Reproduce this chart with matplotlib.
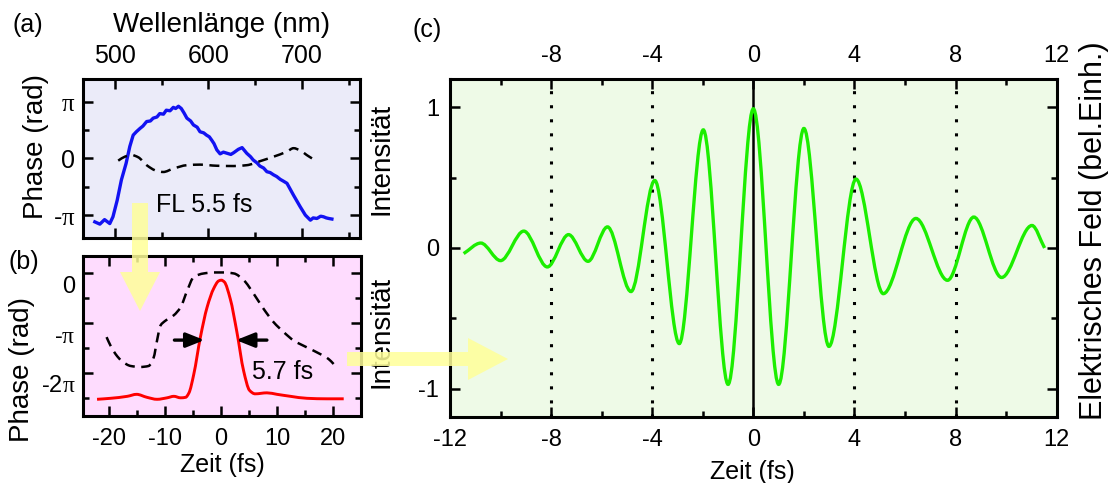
import numpy as np
import matplotlib
matplotlib.use("Agg")
import matplotlib.pyplot as plt
from matplotlib.path import Path
from matplotlib.patches import PathPatch, FancyArrow
from matplotlib.ticker import MultipleLocator, FixedLocator
from matplotlib.transforms import ScaledTranslation

# (a) spectrum (intensity, drawn in phase units of pi) and spectral phase
spec_nm = [478.6, 484, 489, 494.6, 498, 502.5, 507, 512, 516, 519.6, 523, 527, 530, 534,
           538, 541, 545, 548, 552, 555, 559, 562.5, 565, 568, 571, 574, 577, 581, 584,
           588, 591, 595, 598, 601, 603.6, 606, 609, 612.5, 616, 620, 624, 627, 632, 636,
           641, 645, 648, 652, 655, 659, 662.5, 666, 669.6, 673, 676.8, 680, 684, 691,
           698, 703.6, 709, 712, 716, 720, 723, 726, 728.6, 732]
spec_int = [-1.12, -1.16, -1.08, -1.15, -1.03, -0.74, -0.38, -0.09, 0.21, 0.41, 0.47,
            0.53, 0.57, 0.65, 0.66, 0.71, 0.73, 0.79, 0.78, 0.85, 0.84, 0.90, 0.88, 0.92,
            0.88, 0.80, 0.71, 0.66, 0.59, 0.55, 0.47, 0.45, 0.41, 0.38, 0.32, 0.26, 0.15,
            0.08, 0.11, 0.09, 0.07, 0.10, 0.16, 0.19, 0.09, 0.03, -0.03, -0.08, -0.135,
            -0.17, -0.235, -0.25, -0.29, -0.32, -0.37, -0.40, -0.44, -0.65, -0.85, -1.0,
            -1.09, -1.05, -1.06, -1.02, -1.03, -1.05, -1.06, -1.07]
phase_nm = [503.6, 510.7, 517.9, 525, 534, 544.6, 551.8, 562.5, 577, 591, 609, 627, 641,
            655, 669.6, 684, 691, 698, 705, 710.7]
phase_spec = [-0.04, 0.03, 0.06, 0.02, -0.12, -0.22, -0.24, -0.18, -0.12, -0.11, -0.13,
              -0.135, -0.12, -0.05, 0.03, 0.12, 0.18, 0.14, 0.06, 0.0]

# (b) temporal intensity and phase
pulse_t = [-22.1, -19.7, -16.7, -15.05, -13.2, -11.4, -9.6, -8.4, -7.2, -6.3, -5.7, -4.85,
           -3.66, -2.47, -1.28, -0.4, 0.07, 0.6, 1.66, 2.85, 4.05, 5.1, 6.1, 8.2, 10.0,
           12.4, 15.35, 18.9, 21.9]
pulse_int = [-2.53, -2.51, -2.47, -2.43, -2.49, -2.53, -2.50, -2.47, -2.50, -2.49, -2.40,
             -2.03, -1.28, -0.68, -0.30, -0.15, -0.135, -0.17, -0.51, -1.18, -1.96, -2.35,
             -2.42, -2.40, -2.43, -2.47, -2.51, -2.52, -2.52]
phase_t = [-20.4, -19.7, -18.8, -17.6, -16.1, -14.4, -12.9, -12.0, -11.4, -10.8, -9.9, -8.4,
           -7.2, -6.0, -4.85, -3.07, -1.3, 0.4, 2.3, 4.1, 5.85, 7.6, 9.4, 11.2, 13.0, 15.4,
           17.7, 19.2, 20.1]
phase_time = [-1.28, -1.45, -1.62, -1.77, -1.86, -1.88, -1.86, -1.69, -1.35, -1.05, -0.95,
              -0.84, -0.68, -0.34, -0.07, 0.0, 0.02, 0.02, 0.0, -0.14, -0.41, -0.71, -0.98,
              -1.18, -1.35, -1.49, -1.62, -1.72, -1.82]
fwhm_level = -1.34
fwhm_left = (-8.3, -2.95)
fwhm_right = (8.2, 2.7)

# (c) electric field, extrema
field_t = [-11.46, -10.78, -10.0, -9.08, -8.15, -7.31, -6.54, -5.77, -4.84, -3.9, -2.93,
           -1.98, -1.0, 0.0, 1.0, 2.0, 2.99, 4.06, 5.14, 6.43, 7.68, 8.72, 9.82, 11.02, 11.52]
field_e = [-0.04, 0.035, -0.09, 0.12, -0.135, 0.095, -0.095, 0.15, -0.31, 0.48, -0.68,
           0.84, -0.97, 0.99, -0.97, 0.85, -0.70, 0.49, -0.325, 0.21, -0.23, 0.22, -0.21,
           0.16, 0.0]
grid_t = [-8, -4, 4, 8]

plt.rcParams["font.family"] = ["Liberation Sans", "DejaVu Sans"]
plt.rcParams["axes.unicode_minus"] = False
plt.rcParams["mathtext.fontset"] = "custom"
plt.rcParams["mathtext.rm"] = "Liberation Serif"
plt.rcParams["mathtext.it"] = "Liberation Serif:italic"

PI = r"$\mathrm{\pi}$"


def smooth_curve(ax, x, y, **kw):
    # monotone cubic through the read points, drawn as bezier path
    x = np.asarray(x, float)
    y = np.asarray(y, float)
    h = np.diff(x)
    d = np.diff(y) / h
    m = np.zeros_like(x)
    m[0], m[-1] = d[0], d[-1]
    for i in range(1, len(x) - 1):
        if d[i - 1] * d[i] > 0:
            w1 = 2 * h[i] + h[i - 1]
            w2 = h[i] + 2 * h[i - 1]
            m[i] = (w1 + w2) / (w1 / d[i - 1] + w2 / d[i])
    verts = [(x[0], y[0])]
    codes = [Path.MOVETO]
    for i in range(len(x) - 1):
        verts += [(x[i] + h[i] / 3, y[i] + m[i] * h[i] / 3),
                  (x[i + 1] - h[i] / 3, y[i + 1] - m[i + 1] * h[i] / 3),
                  (x[i + 1], y[i + 1])]
        codes += [Path.CURVE4] * 3
    ax.add_patch(PathPatch(Path(verts, codes), fill=False, **kw))


def style(ax, size, pad_x=9, pad_y=5.5):
    for s in ax.spines.values():
        s.set_linewidth(2.2)
    ax.tick_params(which="both", direction="in", top=True, right=True, width=1.8,
                   labelsize=size)
    ax.tick_params(which="major", length=7)
    ax.tick_params(which="minor", length=4.3)
    ax.tick_params(axis="x", pad=pad_x)
    ax.tick_params(axis="y", pad=pad_y)


fig = plt.figure(figsize=(11.1, 4.83), dpi=100)

# ---- (a)
axa = fig.add_axes([0.0748, 0.5066, 0.2495, 0.3292], facecolor="#EBEBF9")
axa.plot(spec_nm, spec_int, color="#1212F2", lw=2.4, zorder=3)
smooth_curve(axa, phase_nm, phase_spec, edgecolor="black", lw=1.8,
             linestyle=(0, (4, 2.6)), zorder=3)
axa.set_xlim(466, 762)
axa.set_ylim(-1.41, 1.395)
axa.xaxis.set_major_locator(FixedLocator([500, 600, 700]))
axa.xaxis.set_minor_locator(FixedLocator([550, 650, 750]))
axa.set_yticks([-1, 0, 1], ["-" + PI, "0", PI])
axa.yaxis.set_minor_locator(FixedLocator([-0.5, 0.5]))
style(axa, 18, pad_x=8)
axa.tick_params(labeltop=True, labelbottom=False)
axa.xaxis.set_label_position("top")
axa.set_xlabel("Wellenlänge (nm)", fontsize=20, va="center")
axa.xaxis.set_label_coords(0.5, 1.34)
axa.set_ylabel("Phase (rad)", fontsize=20, va="center")
axa.yaxis.set_label_coords(-0.17, 0.58)
axa.text(1.076, 0.5, "Intensität", transform=axa.transAxes, rotation=90,
         ha="center", va="center", fontsize=20)
axa.text(544, -0.82, "FL 5.5 fs", fontsize=18, ha="left", va="center")

# ---- (b)
axb = fig.add_axes([0.0748, 0.1393, 0.2505, 0.3306], facecolor="#FEDCFE")
smooth_curve(axb, pulse_t, pulse_int, edgecolor="#FF0000", lw=2.1, zorder=3)
smooth_curve(axb, phase_t, phase_time, edgecolor="black", lw=1.8,
             linestyle=(0, (4, 2.6)), zorder=3)
for x0, x1 in (fwhm_left, fwhm_right):
    axb.annotate("", xy=(x1, fwhm_level), xytext=(x0, fwhm_level),
                 arrowprops=dict(arrowstyle="-|>,head_length=0.55,head_width=0.22",
                                 color="black", lw=2.4, shrinkA=0, shrinkB=0,
                                 mutation_scale=20), zorder=4)
axb.text(5.5, -1.99, "5.7 fs", fontsize=18, ha="left", va="center")
axb.set_xlim(-24.6, 25.0)
axb.set_ylim(-2.86, 0.35)
axb.xaxis.set_major_locator(MultipleLocator(10))
axb.xaxis.set_minor_locator(MultipleLocator(5))
axb.set_yticks([0, -1, -2], ["0", "-" + PI, "-2" + PI])
axb.yaxis.set_minor_locator(FixedLocator([-0.5, -1.5, -2.5]))
style(axb, 17)
axb.set_xlabel("Zeit (fs)", fontsize=18, va="center")
axb.xaxis.set_label_coords(0.5, -0.309)
axb.set_ylabel("Phase (rad)", fontsize=20, va="center")
axb.yaxis.set_label_coords(-0.218, 0.29)
axb.text(1.072, 0.524, "Intensität", transform=axb.transAxes, rotation=90,
         ha="center", va="center", fontsize=20)
shift = ScaledTranslation(0, -11 / 100, fig.dpi_scale_trans)
for lbl in axb.get_yticklabels():
    lbl.set_transform(lbl.get_transform() + shift)

# ---- (c)
axc = fig.add_axes([0.4054, 0.1373, 0.5466, 0.6986], facecolor="#EEFAE7")
for t in grid_t:
    axc.axvline(t, color="black", lw=2.2, linestyle=(0, (1, 3.6)), zorder=1)
axc.axvline(0, color="black", lw=1.8, zorder=1)
smooth_curve(axc, field_t, field_e, edgecolor="#1CEE00", lw=2.4, zorder=3)
axc.set_xlim(-12, 12)
axc.set_ylim(-1.2, 1.2)
axc.set_xticks([-12, -8, -4, 0, 4, 8, 12])
axc.xaxis.set_minor_locator(MultipleLocator(2))
axc.set_yticks([-1, 0, 1])
axc.yaxis.set_minor_locator(MultipleLocator(0.5))
style(axc, 17, pad_x=9, pad_y=8)
axc.tick_params(labeltop=True)
axc.xaxis.get_major_ticks()[0].label2.set_visible(False)
axc.set_xlabel("Zeit (fs)", fontsize=18, va="center")
axc.xaxis.set_label_coords(0.498, -0.164)
axc.yaxis.set_label_position("right")
axc.set_ylabel("Elektrisches Feld (bel.Einh.)", fontsize=22, va="center")
axc.yaxis.set_label_coords(1.062, 0.55)

# panel letters
fig.text(12 / 1110, 1 - 25 / 483, "(a)", fontsize=18, ha="left", va="center")
fig.text(8 / 1110, 1 - 262 / 483, "(b)", fontsize=18, ha="left", va="center")
fig.text(413 / 1110, 1 - 30 / 483, "(c)", fontsize=18, ha="left", va="center")

# yellow guide arrows
tr = fig.dpi_scale_trans
fig.add_artist(FancyArrow(1.40, 2.80, 0, -1.08, width=0.16, head_width=0.40,
                          head_length=0.39, length_includes_head=True, color="#FFFF99",
                          alpha=0.85, lw=0, transform=tr, zorder=5))
fig.add_artist(FancyArrow(3.47, 1.24, 1.61, 0, width=0.14, head_width=0.42,
                          head_length=0.40, length_includes_head=True, color="#FFFF99",
                          alpha=0.85, lw=0, transform=tr, zorder=5))

fig.savefig("out.png", dpi=100)
